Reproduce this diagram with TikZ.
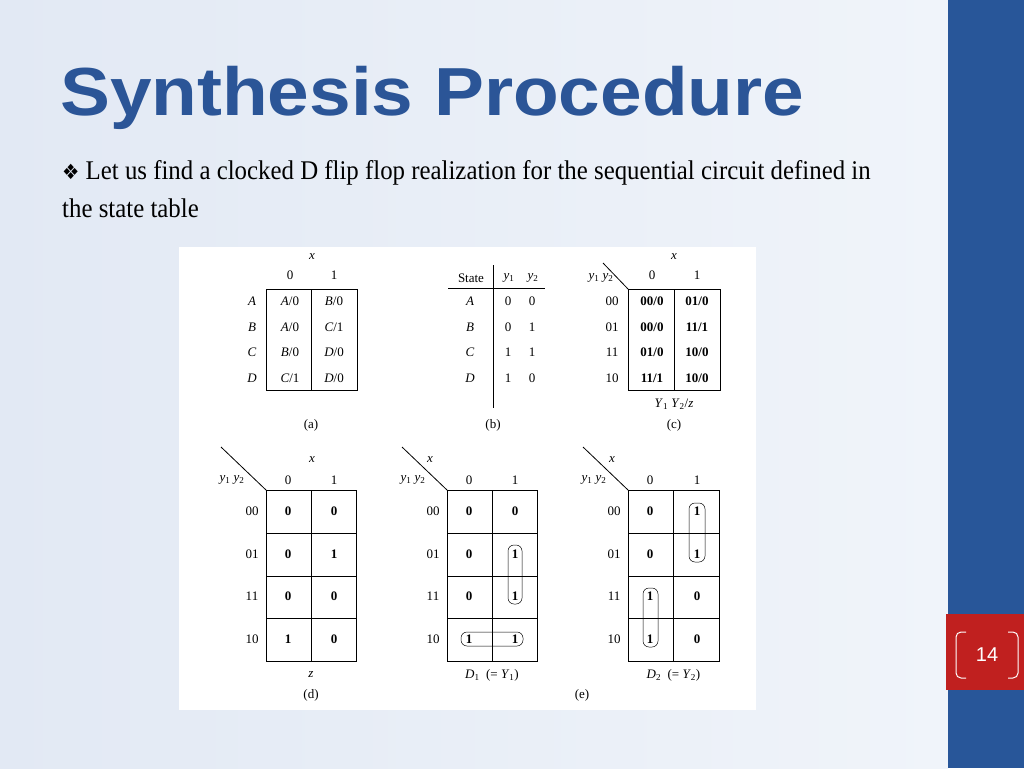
\documentclass[tikz,border=0pt]{standalone}
\usepackage{fontspec}
\setmainfont{Liberation Serif}
\newfontfamily\titlefont{Liberation Sans}
\newfontfamily\symfont{DejaVu Sans}
\usetikzlibrary{positioning}
\definecolor{slideblue}{RGB}{43, 85, 151}
\definecolor{barblue}{RGB}{40, 86, 153}
\definecolor{pagered}{RGB}{192, 32, 31}
\definecolor{bgleft}{RGB}{226, 233, 244}
\definecolor{bgright}{RGB}{240, 244, 250}
\newcommand{\vr}[2]{\textit{#1}\textsubscript{#2}}
\tikzset{
    lbl/.style={font=\fontsize{13}{13}\selectfont, inner sep=0pt},
    entry/.style={font=\fontsize{13}{13}\selectfont\bfseries, inner sep=0pt},
    grid/.style={draw=black, line width=1pt},
    loop/.style={draw=black, line width=0.5pt, rounded corners=6pt}
}
\begin{document}
\begin{tikzpicture}[x=1pt, y=-1pt]
    \useasboundingbox (0,0) rectangle (1024,768);
    % background
    \shade[left color=bgleft, right color=bgright] (0,0) rectangle (948,768);
    \fill[barblue] (948,0) rectangle (1024,768);
    \fill[pagered] (946,614) rectangle (1024,690);
    \draw[white, line width=1pt, rounded corners=5pt] (966,632) -- (956,632) -- (956,678) -- (966,678);
    \draw[white, line width=1pt, rounded corners=5pt] (1008,632) -- (1018,632) -- (1018,678) -- (1008,678);
    \node[text=white, font=\titlefont\fontsize{20}{20}\selectfont] (pagenum) at (987,655) {14};

    % title and text
    \node[anchor=west, inner sep=0pt, text=slideblue, font=\titlefont\fontsize{68}{68}\selectfont\bfseries] (title) at (60,98) {\scalebox{1.1}[1]{Synthesis Procedure}};
    \node[anchor=west, inner sep=0pt] (line1) at (62,173) {\scalebox{0.92}[1]{\fontsize{27}{27}\selectfont{\symfont\fontsize{21}{21}\selectfont ❖} Let us find a clocked D flip flop realization for the sequential circuit defined in}};
    \node[anchor=west, inner sep=0pt] (line2) at (62,208) {\scalebox{0.92}[1]{\fontsize{27}{27}\selectfont the state table}};

    % figure area
    \fill[white] (179,247) rectangle (756,710);

    % (a) state table
    \draw[grid] (266,289) rectangle (357,390);
    \draw[grid] (311,289) -- (311,390);
    \node[lbl] (ax) at (312,257) {\textit{x}};
    \node[lbl] (a0) at (290,275) {0};
    \node[lbl] (a1) at (334,275) {1};
    \foreach \s/\p/\q [count=\i] in {A/{\textit{A}/0}/{\textit{B}/0}, B/{\textit{A}/0}/{\textit{C}/1}, C/{\textit{B}/0}/{\textit{D}/0}, D/{\textit{C}/1}/{\textit{D}/0}} {
        \node[lbl] (ar\i) at (252,276+25.5*\i) {\textit{\s}};
        \node[lbl] (ap\i) at (290,276+25.5*\i) {\p};
        \node[lbl] (aq\i) at (334,276+25.5*\i) {\q};
    }
    \node[lbl] (capa) at (311,425) {(a)};

    % (b) assignment
    \draw[line width=0.6pt] (493,265) -- (493,408);
    \draw[line width=0.6pt] (448,288) -- (545,288);
    \node[lbl] (state) at (471,278) {State};
    \node[lbl] (by1) at (509,278) {\vr{y}{1}};
    \node[lbl] (by2) at (533,278) {\vr{y}{2}};
    \foreach \s/\u/\v [count=\i] in {A/0/0, B/0/1, C/1/1, D/1/0} {
        \node[lbl] (br\i) at (470,276+25.5*\i) {\textit{\s}};
        \node[lbl] (bu\i) at (508,276+25.5*\i) {\u};
        \node[lbl] (bv\i) at (532,276+25.5*\i) {\v};
    }
    \node[lbl] (capb) at (493,425) {(b)};

    % (c) transition table
    \draw[grid] (628,289) rectangle (720,390);
    \draw[grid] (674,289) -- (674,390);
    \draw[line width=0.8pt] (603,263) -- (628,289);
    \node[lbl] (cx) at (674,257) {\textit{x}};
    \node[lbl] (cy) at (601,278) {\vr{y}{1} \vr{y}{2}};
    \node[lbl] (c0) at (652,275) {0};
    \node[lbl] (c1) at (697,275) {1};
    \foreach \r/\p/\q [count=\i] in {00/{00/0}/{01/0}, 01/{00/0}/{11/1}, 11/{01/0}/{10/0}, 10/{11/1}/{10/0}} {
        \node[lbl] (cr\i) at (612,276+25.5*\i) {\r};
        \node[entry] (cp\i) at (652,276+25.5*\i) {\p};
        \node[entry] (cq\i) at (697,276+25.5*\i) {\q};
    }
    \node[lbl] (cout) at (674,404) {\vr{Y}{1} \vr{Y}{2}/\textit{z}};
    \node[lbl] (capc) at (674,425) {(c)};

    % (d), (e) maps
    \foreach \m/\xl/\xr/\xx/\cap/\ea/\eb/\ec/\ed/\fa/\fb/\fc/\fd in {
        d/266/356/312/{\textit{z}}/0/0/0/1/0/1/0/0,
        f/447/537/430/{\vr{D}{1} \ (= \vr{Y}{1})}/0/0/0/1/0/1/1/1,
        g/628/719/612/{\vr{D}{2} \ (= \vr{Y}{2})}/0/0/1/1/1/1/0/0} {
        \pgfmathsetmacro{\xm}{(\xl+\xr)/2}
        \draw[grid] (\xl,490) rectangle (\xr,661);
        \draw[grid] (\xm,490) -- (\xm,661);
        \foreach \yy in {533,576,618} { \draw[grid] (\xl,\yy) -- (\xr,\yy); }
        \draw[line width=0.8pt] (\xl-45,447) -- (\xl,490);
        \node[lbl] (\m x) at (\xx,460) {\textit{x}};
        \node[lbl] (\m y) at (\xl-34,480) {\vr{y}{1} \vr{y}{2}};
        \node[lbl] (\m h0) at (\xl+22,480) {0};
        \node[lbl] (\m h1) at (\xr-22,480) {1};
        \foreach \r [count=\i] in {00,01,11,10} {
            \node[lbl] (\m r\i) at (\xl-14,469+42.5*\i) {\r};
        }
        \node[entry] (\m a1) at (\xl+22,511.5) {\ea};
        \node[entry] (\m a2) at (\xl+22,554) {\eb};
        \node[entry] (\m a3) at (\xl+22,596.5) {\ec};
        \node[entry] (\m a4) at (\xl+22,639) {\ed};
        \node[entry] (\m b1) at (\xr-22,511.5) {\fa};
        \node[entry] (\m b2) at (\xr-22,554) {\fb};
        \node[entry] (\m b3) at (\xr-22,596.5) {\fc};
        \node[entry] (\m b4) at (\xr-22,639) {\fd};
        \node[lbl] (\m cap) at (\xm,675) {\cap};
    }
    \node[lbl] (capd) at (311,695) {(d)};
    \node[lbl] (cape) at (582,695) {(e)};

    % loops
    \draw[loop] (508,545) rectangle (522,604);
    \draw[loop] (461,632) rectangle (523,646);
    \draw[loop] (689,503) rectangle (705,562);
    \draw[loop] (643,588) rectangle (658,647);
\end{tikzpicture}
\end{document}
